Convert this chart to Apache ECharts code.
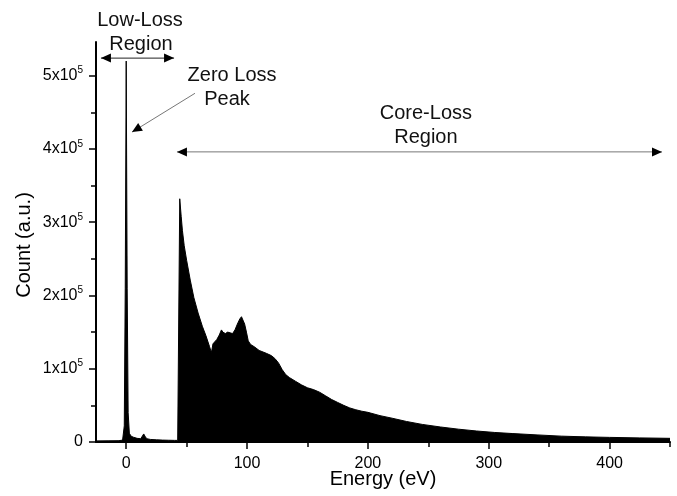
<!DOCTYPE html>
<html>
<head>
<meta charset="utf-8">
<script src="https://cdn.jsdelivr.net/npm/echarts@6/dist/echarts.min.js"></script>
<style>
  html, body { margin: 0; padding: 0; background: #fff; }
  #chart { width: 677px; height: 496px; }
</style>
</head>
<body>
<div id="chart"></div>
<script>
// EELS spectrum: energy loss (eV) and detector counts
const energy = [
  -25, -15, -6, -3, -1.6, -0.8, 0, 0.8, 1.6, 2.6, 4, 6, 9, 12, 13.5, 14.5, 15.5, 17, 20, 25, 30, 35, 40, 42.6,
  44.3, 45.5, 46.5, 48, 50, 53, 56, 59.5, 63, 66, 69, 70.5, 71, 71.8, 73, 75, 77, 78.8, 80, 82, 84, 86,
  88, 90, 92, 94, 95.4, 96.5, 98, 99.5, 101, 103, 106, 110, 116, 120, 123, 126, 129, 132, 135, 140, 145,
  150, 155, 160, 165, 170, 175, 180, 185, 190, 195, 200, 210, 220, 232, 245, 260, 275, 290, 305, 320,
  340, 360, 380, 400, 425, 450
];
const counts = [
  1500, 1600, 1800, 2600, 22000, 210000, 520000, 210000, 40000, 12000, 8000, 6500, 5000, 4500, 7000, 11000, 8000, 4500, 3500, 3000, 2600, 2400, 2200, 2200,
  332000, 308000, 289000, 268000, 248000, 221000, 197000, 176000, 158000, 145000, 130000, 122000, 121000, 134000, 136000, 140000, 146000, 153000, 150000, 148000, 150000, 149000,
  148000, 153000, 161000, 168000, 171000, 169000, 161000, 150000, 138000, 133000, 130000, 125000, 121000, 118000, 114000, 108000, 99000, 92000, 88000, 83000, 78000,
  74000, 71500, 68000, 63000, 58000, 54000, 50000, 46500, 44000, 42000, 40500, 36000, 32500, 28000, 24000, 20500, 17500, 15000, 13000, 11500,
  9700, 8000, 7000, 6300, 5600, 5000
];

// Axis ticks and labels
const xMajorTicks = [0, 100, 200, 300, 400];
const xMinorTicks = [50, 150, 250, 350, 450];
const yMajorTicks = [0, 100000, 200000, 300000, 400000, 500000];
const yMinorTicks = [50000, 150000, 250000, 350000, 450000];

// Annotation texts and arrows, given in energy/count coordinates
const annotationTexts = [
  { text: 'Low-Loss', at: [11.4, 575000] },
  { text: 'Region', at: [12.2, 542000] },
  { text: 'Zero Loss', at: [87.6, 500000] },
  { text: 'Peak', at: [83.4, 467000] },
  { text: 'Core-Loss', at: [248, 448000] },
  { text: 'Region', at: [248, 415000] }
];
const annotationArrows = [
  { from: [-20.9, 524000], to: [39.6, 524000], both: true, color: '#222' },
  { from: [56.9, 476000], to: [4.8, 423000], both: false, color: '#777' },
  { from: [42.0, 396000], to: [443.4, 396000], both: true, color: '#777' }
];

const FONT = '"Liberation Sans", Arial, sans-serif';
const chart = echarts.init(document.getElementById('chart'), null, { renderer: 'canvas' });

const axisLineStyle = { color: '#000', width: 2 };

chart.setOption({
  animation: false,
  backgroundColor: '#fff',
  grid: { left: 96, right: 7, top: 42, bottom: 54, containLabel: false },
  xAxis: [
    {
      type: 'value', min: -25, max: 450, position: 'bottom',
      axisLine: { show: true, onZero: false, lineStyle: axisLineStyle },
      axisTick: { show: true, customValues: xMajorTicks, length: 7, lineStyle: { color: '#000', width: 1.5 } },
      axisLabel: { customValues: xMajorTicks, margin: 14, color: '#000', fontSize: 16, fontFamily: FONT },
      splitLine: { show: false }
    },
    {
      type: 'value', min: -25, max: 450, position: 'bottom',
      axisLine: { show: false, onZero: false },
      axisTick: { show: true, customValues: xMinorTicks, length: 5, lineStyle: { color: '#000', width: 1.5 } },
      axisLabel: { show: false },
      splitLine: { show: false }
    }
  ],
  yAxis: [
    {
      type: 'value', min: 0, max: 546000, position: 'left',
      axisLine: { show: true, onZero: false, lineStyle: axisLineStyle },
      axisTick: { show: true, customValues: yMajorTicks, length: 7, lineStyle: { color: '#000', width: 1.5 } },
      axisLabel: {
        customValues: yMajorTicks, margin: 13, color: '#000', fontSize: 16, fontFamily: FONT,
        formatter: function (v) {
          if (v === 0) return '0';
          return '{m|' + (v / 100000) + 'x10}{e|5}';
        },
        rich: {
          m: { fontSize: 16, fontFamily: FONT, color: '#000' },
          e: { fontSize: 10, fontFamily: FONT, color: '#000', padding: [0, 0, 10, 0] }
        }
      },
      splitLine: { show: false }
    },
    {
      type: 'value', min: 0, max: 546000, position: 'left',
      axisLine: { show: false, onZero: false },
      axisTick: { show: true, customValues: yMinorTicks, length: 5, lineStyle: { color: '#000', width: 1.5 } },
      axisLabel: { show: false },
      splitLine: { show: false }
    }
  ],
  series: [
    {
      type: 'line',
      xAxisIndex: 0, yAxisIndex: 0,
      data: energy.map((e, i) => [e, counts[i]]),
      showSymbol: false, symbol: 'none',
      lineStyle: { color: '#000', width: 1 },
      areaStyle: { color: '#000', opacity: 1 },
      z: 2
    }
  ]
});

// Place titles and annotations once the axes are laid out
function px(p) {
  return chart.convertToPixel({ xAxisIndex: 0, yAxisIndex: 0 }, p);
}

function arrowHead(tip, from, color) {
  const dx = tip[0] - from[0], dy = tip[1] - from[1];
  const len = Math.sqrt(dx * dx + dy * dy);
  const ux = dx / len, uy = dy / len;
  const L = 10, W = 4.5;
  const bx = tip[0] - ux * L, by = tip[1] - uy * L;
  return {
    type: 'polygon', silent: true, z: 10,
    shape: { points: [tip, [bx - uy * W, by + ux * W], [bx + uy * W, by - ux * W]] },
    style: { fill: color }
  };
}

const graphics = [];
annotationTexts.forEach(t => {
  const p = px(t.at);
  graphics.push({
    type: 'text', x: p[0], y: p[1], silent: true, z: 10,
    style: { text: t.text, fill: '#111', font: '20px ' + FONT, textAlign: 'center', textVerticalAlign: 'middle' }
  });
});
annotationArrows.forEach(a => {
  const p0 = px(a.from), p1 = px(a.to);
  graphics.push({
    type: 'line', silent: true, z: 9,
    shape: { x1: p0[0], y1: p0[1], x2: p1[0], y2: p1[1] },
    style: { stroke: a.color, lineWidth: 1 }
  });
  graphics.push(arrowHead(p1, p0, '#000'));
  if (a.both) graphics.push(arrowHead(p0, p1, '#000'));
});

// Axis titles
graphics.push({
  type: 'text', x: 383, y: 479, silent: true,
  style: { text: 'Energy (eV)', fill: '#000', font: '20px ' + FONT, textAlign: 'center', textVerticalAlign: 'middle' }
});
graphics.push({
  type: 'text', x: 24, y: 245, rotation: Math.PI / 2, silent: true,
  style: { text: 'Count (a.u.)', fill: '#000', font: '20px ' + FONT, textAlign: 'center', textVerticalAlign: 'middle' }
});

chart.setOption({ graphic: graphics });
</script>
</body>
</html>
